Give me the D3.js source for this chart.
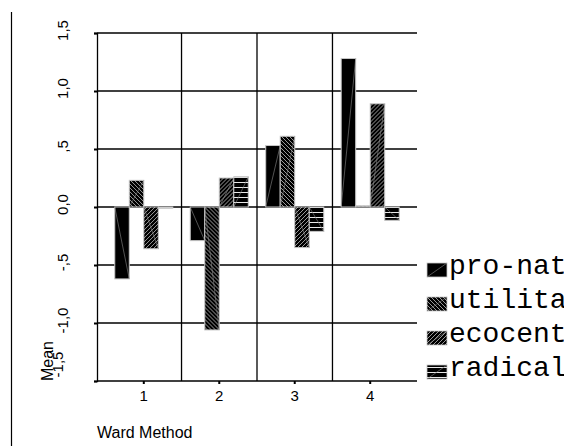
<!DOCTYPE html>
<html>
<head>
<meta charset="utf-8">
<script src="https://cdn.jsdelivr.net/npm/d3@7"></script>
<style>
  html, body { margin: 0; padding: 0; background: #fff; overflow: hidden; }
</style>
</head>
<body>
<div class="canvas"></div>
<script>
// chart data
const groups = ['1', '2', '3', '4'];
const series = ['pro-nature', 'utilitarian', 'ecocentric', 'radical'];
const proNature = [-0.62, -0.29, 0.53, 1.28];
const utilitarian = [0.23, -1.06, 0.61, 0.01];
const ecocentric = [-0.36, 0.25, -0.35, 0.89];
const radical = [-0.01, 0.26, -0.21, -0.115];
const yTicks = [-1.5, -1.0, -0.5, 0, 0.5, 1.0, 1.5];
const yTickLabels = ['-1,5', '-1,0', '-,5', '0,0', ',5', '1,0', '1,5'];

const values = [proNature, utilitarian, ecocentric, radical];
const data = groups.map((g, i) => ({
    group: g,
    bars: series.map((s, j) => ({ key: s, value: values[j][i] }))
}));

const svg = d3.select('.canvas')
    .append('svg')
    .attr('width', 564)
    .attr('height', 446);

// patterns
const defs = svg.append('defs');
const fills = {
    'pro-nature': '#000',
    'utilitarian': 'url(#pat-back)',
    'ecocentric': 'url(#pat-fwd)',
    'radical': 'url(#pat-horiz)'
};

const back = defs.append('pattern')
    .attr('id', 'pat-back')
    .attr('patternUnits', 'userSpaceOnUse')
    .attr('width', 4).attr('height', 4);
back.append('rect').attr('width', 4).attr('height', 4).attr('fill', '#000');
back.append('path').attr('d', 'M-1,-1 L5,5 M-1,3 L1,5 M3,-1 L5,1')
    .attr('stroke', '#9a9a9a').attr('stroke-width', 1);

const fwd = defs.append('pattern')
    .attr('id', 'pat-fwd')
    .attr('patternUnits', 'userSpaceOnUse')
    .attr('width', 4).attr('height', 4);
fwd.append('rect').attr('width', 4).attr('height', 4).attr('fill', '#000');
fwd.append('path').attr('d', 'M-1,5 L5,-1 M-1,1 L1,-1 M3,5 L5,3')
    .attr('stroke', '#9a9a9a').attr('stroke-width', 1);

const horiz = defs.append('pattern')
    .attr('id', 'pat-horiz')
    .attr('patternUnits', 'userSpaceOnUse')
    .attr('width', 5).attr('height', 5);
horiz.append('rect').attr('width', 5).attr('height', 5).attr('fill', '#000');
horiz.append('rect').attr('y', 2).attr('width', 5).attr('height', 1).attr('fill', '#e8e8e8');

// frame line at far left
svg.append('line')
    .attr('x1', 11.5).attr('x2', 11.5)
    .attr('y1', 12).attr('y2', 446)
    .attr('stroke', '#000').attr('stroke-width', 1.2);

// scales
const x0 = d3.scaleBand()
    .domain(groups)
    .range([97, 417])
    .paddingInner(0)
    .paddingOuter(0.12);

const x1 = d3.scaleBand()
    .domain(series)
    .range([0, x0.bandwidth()])
    .paddingInner(0)
    .paddingOuter(0.6);

const y = d3.scaleLinear()
    .domain([-1.5, 1.5])
    .range([381, 33]);

// grid
const grid = svg.append('g');
grid.selectAll('line.h')
    .data(yTicks)
    .enter().append('line')
    .attr('class', 'h')
    .attr('x1', 97).attr('x2', 417)
    .attr('y1', d => y(d)).attr('y2', d => y(d))
    .attr('stroke', '#000').attr('stroke-width', 1.3);

grid.selectAll('line.v')
    .data(groups.slice(1))
    .enter().append('line')
    .attr('class', 'v')
    .attr('x1', d => x0(d)).attr('x2', d => x0(d))
    .attr('y1', y(1.5)).attr('y2', y(-1.5))
    .attr('stroke', '#000').attr('stroke-width', 1.3);

// axes
const yAxis = d3.axisLeft(y)
    .tickValues(yTicks)
    .tickSize(3)
    .tickFormat((d, i) => yTickLabels[i]);

const yAxisGroup = svg.append('g')
    .attr('transform', 'translate(97, 0)')
    .call(yAxis);
yAxisGroup.select('.domain').attr('stroke-width', 1.3);
yAxisGroup.selectAll('.tick line').attr('stroke-width', 2);
yAxisGroup.selectAll('text')
    .attr('font-family', 'Liberation Sans, Arial, sans-serif')
    .attr('font-size', 15)
    .attr('fill', '#000')
    .attr('text-anchor', 'middle')
    .attr('dy', 0)
    .attr('x', 0)
    .attr('transform', 'translate(-29, -3) rotate(-90)');
// -1,5 sits higher and further left in the original
yAxisGroup.selectAll('.tick text')
    .filter(d => d === -1.5)
    .attr('transform', 'translate(-34, -17) rotate(-90)');

const xAxis = d3.axisBottom(x0).tickSize(3).tickSizeOuter(0);
const xAxisGroup = svg.append('g')
    .attr('transform', `translate(0, ${y(-1.5)})`)
    .call(xAxis);
xAxisGroup.select('.domain').remove();
xAxisGroup.selectAll('.tick line').attr('stroke-width', 2);
xAxisGroup.selectAll('text')
    .attr('font-family', 'Liberation Sans, Arial, sans-serif')
    .attr('font-size', 15)
    .attr('fill', '#000')
    .attr('dy', '0.9em');

// bars
const barGroups = svg.selectAll('g.grp')
    .data(data)
    .enter().append('g')
    .attr('class', 'grp')
    .attr('transform', d => `translate(${x0(d.group)}, 0)`);

barGroups.selectAll('rect')
    .data(d => d.bars)
    .enter().append('rect')
    .attr('x', d => x1(d.key))
    .attr('y', d => y(Math.max(0, d.value)))
    .attr('width', x1.bandwidth())
    .attr('height', d => Math.abs(y(d.value) - y(0)))
    .attr('fill', d => fills[d.key])
    .attr('stroke', '#c8c8c8')
    .attr('stroke-width', 1);

// the thin diagonal seen across the bars
barGroups.selectAll('line.diag')
    .data(d => d.bars.filter(b => Math.abs(b.value) > 0.05))
    .enter().append('line')
    .attr('class', 'diag')
    .attr('x1', d => x1(d.key))
    .attr('y1', y(0))
    .attr('x2', d => x1(d.key) + x1.bandwidth())
    .attr('y2', d => y(d.value))
    .attr('stroke', '#8a8a8a')
    .attr('stroke-width', 0.6);

// axis titles
svg.append('text')
    .attr('x', 97).attr('y', 438)
    .attr('font-family', 'Liberation Sans, Arial, sans-serif')
    .attr('font-size', 16)
    .text('Ward Method');

svg.append('text')
    .attr('transform', 'translate(53, 381) rotate(-90)')
    .attr('font-family', 'Liberation Sans, Arial, sans-serif')
    .attr('font-size', 16)
    .text('Mean');

// legend (runs off the right edge, as in the original)
const legend = svg.selectAll('g.leg')
    .data(series)
    .enter().append('g')
    .attr('class', 'leg')
    .attr('transform', (d, i) => `translate(427, ${263 + i * 34})`);

legend.append('rect')
    .attr('width', 20).attr('height', 14)
    .attr('fill', d => fills[d])
    .attr('stroke', '#c8c8c8').attr('stroke-width', 0.8);

legend.append('line')
    .attr('x1', 0).attr('y1', 14).attr('x2', 20).attr('y2', 0)
    .attr('stroke', '#8a8a8a').attr('stroke-width', 0.6);

legend.append('text')
    .attr('x', 22).attr('y', 11)
    .attr('font-family', 'Liberation Mono, Courier New, monospace')
    .attr('font-size', 28)
    .attr('fill', '#000')
    .text(d => d);
</script>
</body>
</html>
